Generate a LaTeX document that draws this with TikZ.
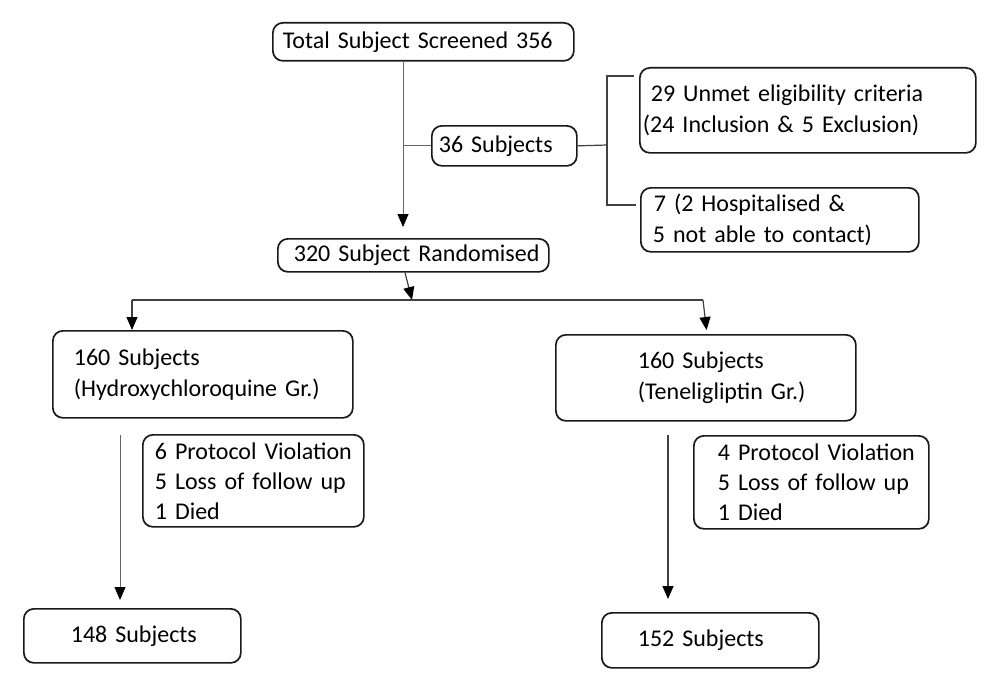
\documentclass[tikz,border=0pt]{standalone}
\usepackage{fontspec}
\setmainfont{Carlito}
\usetikzlibrary{arrows.meta,calc}
\newcommand{\ind}[1]{\hspace*{#1pt}}
\begin{document}
\begin{tikzpicture}[x=1pt,y=-1pt,
  box/.style={draw=black!90, line width=1.7pt, rounded corners=10pt, anchor=north west,
    inner xsep=0pt, inner ysep=0pt, align=left, font=\fontsize{24}{31}\selectfont},
  conn/.style={draw=black!75, line width=1.2pt},
  thinconn/.style={draw=black!60, line width=0.8pt},
  arr/.style={-{Triangle[width=11pt,length=13pt,color=black]}}]
\fill[white] (0,0) rectangle (1000,682);
\useasboundingbox (0,0) rectangle (1000,682);

% boxes
\node[box, text width=301pt, minimum height=38pt] (top) at (272,22)
  {\ind{10}Total Subject Screened 356};
\node[box, text width=145pt, minimum height=40pt] (sub36) at (431,125)
  {\ind{7}36 Subjects};
\node[box, text width=336pt, minimum height=85pt] (unmet) at (639,67)
  {\ind{11}29 Unmet eligibility criteria\\\ind{3}(24 Inclusion \& 5 Exclusion)};
\node[box, text width=278pt, minimum height=64pt] (seven) at (640,187)
  {\ind{13}7 (2 Hospitalised \&\\\ind{12}5 not able to contact)};
\node[box, text width=271pt, minimum height=33pt] (rand) at (277,238)
  {\ind{16}320 Subject Randomised};
\node[box, text width=300pt, minimum height=87pt] (lgrp) at (52,330)
  {\ind{21}160 Subjects\\\ind{21}(Hydroxychloroquine Gr.)};
\node[box, text width=300pt, minimum height=86pt] (rgrp) at (555,334)
  {\ind{82}160 Subjects\\\ind{82}(Teneligliptin Gr.)};
\node[box, font=\fontsize{24}{30}\selectfont, text width=221pt, minimum height=92pt] (lloss) at (142,434)
  {\ind{12}6 Protocol Violation\\\ind{12}5 Loss of follow up\\\ind{12}1 Died};
\node[box, font=\fontsize{24}{30}\selectfont, text width=235pt, minimum height=93pt] (rloss) at (693,435)
  {\ind{24}4 Protocol Violation\\\ind{24}5 Loss of follow up\\\ind{24}1 Died};
\node[box, text width=217pt, minimum height=54pt] (lfin) at (23,608)
  {\ind{47}148 Subjects};
\node[box, text width=217pt, minimum height=55pt] (rfin) at (601,612)
  {\ind{36}152 Subjects};

% helper coordinates
\coordinate (cx) at (403,0);
\coordinate (bm) at (607,145);
\coordinate (bt) at (634,76);
\coordinate (bb) at (636,205);
\coordinate (rs) at (405,0);
\coordinate (sp) at (412,300);
\coordinate (hl) at (132,300);
\coordinate (hr) at (703,300);
\coordinate (rt) at (707,0);
\coordinate (lv) at (120,435);
\coordinate (rv) at (668,435);

% connectors
\draw[thinconn, arr, shorten >=11pt] (top.south -| cx) -- (rand.north -| cx);
\draw[thinconn] (sub36.west -| cx) -- (sub36.west);
\draw[conn] (sub36.east) -- (bm);
\draw[conn] (bt) -| (bm) |- (bb);
\draw[conn, arr] (rand.south -| rs) -- (sp);
\draw[conn] (hl) -- (hr);
\draw[conn, arr] (hl) -- (lgrp.north -| hl);
\draw[conn, arr, shorten >=4pt] (hr) -- (rgrp.north -| rt);
\draw[thinconn, arr, shorten >=8pt] (lv) -- (lfin.north -| lv);
\draw[conn, line width=1.4pt, arr, shorten >=13pt] (rv) -- (rfin.north -| rv);
\end{tikzpicture}
\end{document}
